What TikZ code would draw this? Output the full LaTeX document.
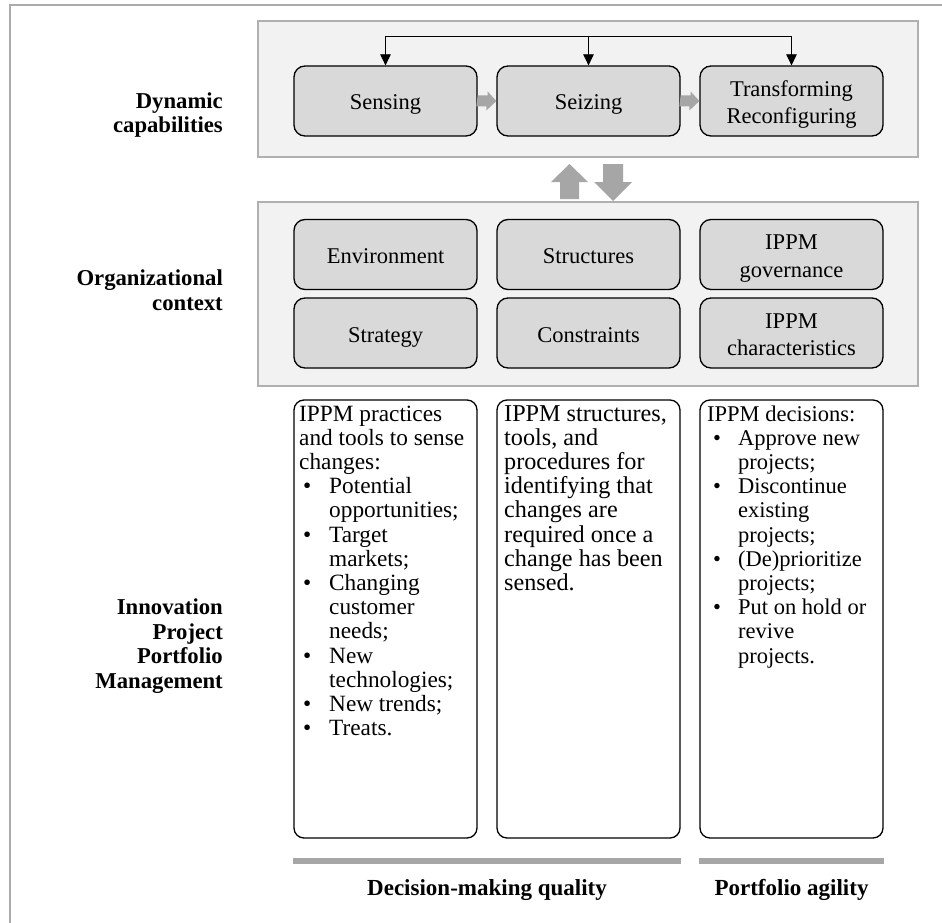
\documentclass[tikz,border=0pt]{standalone}
\usepackage{fontspec}
\setmainfont{Liberation Serif}
\usetikzlibrary{arrows.meta}
\definecolor{panelfill}{HTML}{F2F2F2}
\definecolor{panelline}{HTML}{B0B0B0}
\definecolor{boxfill}{HTML}{D9D9D9}
\definecolor{arrowgray}{HTML}{A6A6A6}
\definecolor{framegray}{HTML}{ABABAB}
\newcommand{\bA}[1]{\makebox[30pt][l]{\hspace{4pt}\textbullet}#1}
\newcommand{\cA}[1]{\hspace*{30pt}#1}
\newcommand{\bB}[1]{\makebox[31pt][l]{\hspace{6pt}\textbullet}#1}
\newcommand{\cB}[1]{\hspace*{31pt}#1}
\newcommand{\ct}{\rule{0pt}{24pt}}
\newcommand{\cb}{\rule[-6pt]{0pt}{0pt}}
\begin{document}
\begin{tikzpicture}[x=1pt,y=-1pt,
  panel/.style={draw=panelline, line width=1.5pt, fill=panelfill, inner sep=0pt},
  capbox/.style={draw=black, line width=1.3pt, fill=boxfill, rounded corners=11pt,
    minimum width=183pt, minimum height=70pt, inner sep=0pt, align=center,
    font=\fontsize{22.5}{27.5}\selectfont},
  textbox/.style={draw=black, line width=1.3pt, fill=white, rounded corners=10pt,
    minimum width=183pt, minimum height=438pt, inner sep=0pt},
  boxtext/.style={anchor=north west, inner sep=0pt, align=left},
  rowlabel/.style={anchor=east, inner sep=0pt, align=right,
    font=\bfseries\fontsize{22.7}{24.7}\selectfont},
  foot/.style={inner sep=0pt, font=\bfseries\fontsize{23}{25}\selectfont},
  fb/.style={draw=black, line width=0.8pt},
  fbarrow/.style={fb, -{Triangle[length=11pt,width=10.5pt]}},
  garrow/.style={fill=arrowgray},
  bar/.style={draw=arrowgray, line width=6pt}
]
\useasboundingbox (0,0) rectangle (942,923);
\fill[white] (0,0) rectangle (942,923);
\draw[framegray, line width=1.5pt] (10,930) -- (10,5) -- (950,5);

% panels
\node[panel, minimum width=660pt, minimum height=136pt] (pdyn) at (588,89) {};
\node[panel, minimum width=660pt, minimum height=184pt] (porg) at (588,294) {};

% capability boxes
\node[capbox] (sens) at (385.5,101) {\ct Sensing\cb};
\node[capbox] (seiz) at (588.5,101) {\ct Seizing\cb};
\node[capbox] (trans) at (791.5,101) {\ct Transforming\\Reconfiguring\cb};

% context boxes
\node[capbox] (env) at (385.5,254.5) {\ct Environment\cb};
\node[capbox] (struc) at (588.5,254.5) {\ct Structures\cb};
\node[capbox] (gov) at (791.5,254.5) {\ct IPPM\\governance\cb};
\node[capbox] (strat) at (385.5,333) {\ct Strategy\cb};
\node[capbox] (cons) at (588.5,333) {\ct Constraints\cb};
\node[capbox] (char) at (791.5,333) {\ct IPPM\\characteristics\cb};

% feedback connectors
\coordinate (f1) at ([yshift=29pt]sens.north);
\coordinate (f2) at ([yshift=29pt]seiz.north);
\coordinate (f3) at ([yshift=29pt]trans.north);
\draw[fb] (f1) -- (f3);
\draw[fbarrow] (f1) -- (sens.north);
\draw[fbarrow] (f2) -- (seiz.north);
\draw[fbarrow] (f3) -- (trans.north);

% gray block arrows between capabilities
\fill[garrow] (sens.east) ++(0,-5.5) -- ++(10,0) -- ++(0,-4) -- (seiz.west)
  -- ++(-10,9.5) -- ++(0,-4) -- ++(-10,0) -- cycle;
\fill[garrow] (seiz.east) ++(0,-5.5) -- ++(10,0) -- ++(0,-4) -- (trans.west)
  -- ++(-10,9.5) -- ++(0,-4) -- ++(-10,0) -- cycle;

% up / down arrows between panels
\fill[garrow] (560,199) -- (560,182) -- (551,182) -- (569.5,164) -- (588,182)
  -- (579,182) -- (579,199) -- cycle;
\fill[garrow] (603,164) -- (623,164) -- (623,182) -- (632,182) -- (613,201)
  -- (594,182) -- (603,182) -- cycle;

% IPPM boxes
\node[textbox] (b1) at (385.5,619) {};
\node[textbox] (b2) at (588.5,619) {};
\node[textbox] (b3) at (791.5,619) {};

\node[boxtext, font=\fontsize{23.3}{24.2}\selectfont] (t1) at (299,404)
  {\strut IPPM practices\\and tools to sense\\changes:\\
  \bA{Potential}\\\cA{opportunities;}\\\bA{Target}\\\cA{markets;}\\
  \bA{Changing}\\\cA{customer}\\\cA{needs;}\\\bA{New}\\\cA{technologies;}\\
  \bA{New trends;}\\\bA{Treats.}};
\node[boxtext, font=\fontsize{24.2}{24.2}\selectfont] (t2) at (504,404)
  {\strut IPPM structures,\\tools, and\\procedures for\\
  identifying that\\changes are\\required once a\\change has been\\sensed.};
\node[boxtext, font=\fontsize{22.5}{24.2}\selectfont] (t3) at (707,404)
  {\strut IPPM decisions:\\\bB{Approve new}\\\cB{projects;}\\
  \bB{Discontinue}\\\cB{existing}\\\cB{projects;}\\\bB{(De)prioritize}\\\cB{projects;}\\
  \bB{Put on hold or}\\\cB{revive}\\\cB{projects.}};

% bars
\draw[bar] ([yshift=-22pt]b1.south west) -- ([yshift=-22pt]b2.south east);
\draw[bar] ([yshift=-22pt]b3.south west) -- ([yshift=-22pt]b3.south east);

% row labels
\node[rowlabel] (lDyn) at (223,115) {Dynamic\\capabilities};
\node[rowlabel] (lOrg) at (223,290) {Organizational\\context};
\node[rowlabel] (lIPPM) at (223,646) {Innovation\\Project\\Portfolio\\Management};

% footer labels
\node[foot] (dmq) at (487,890) {Decision-making quality};
\node[foot] (pa) at (791.5,890) {Portfolio agility};
\end{tikzpicture}
\end{document}
